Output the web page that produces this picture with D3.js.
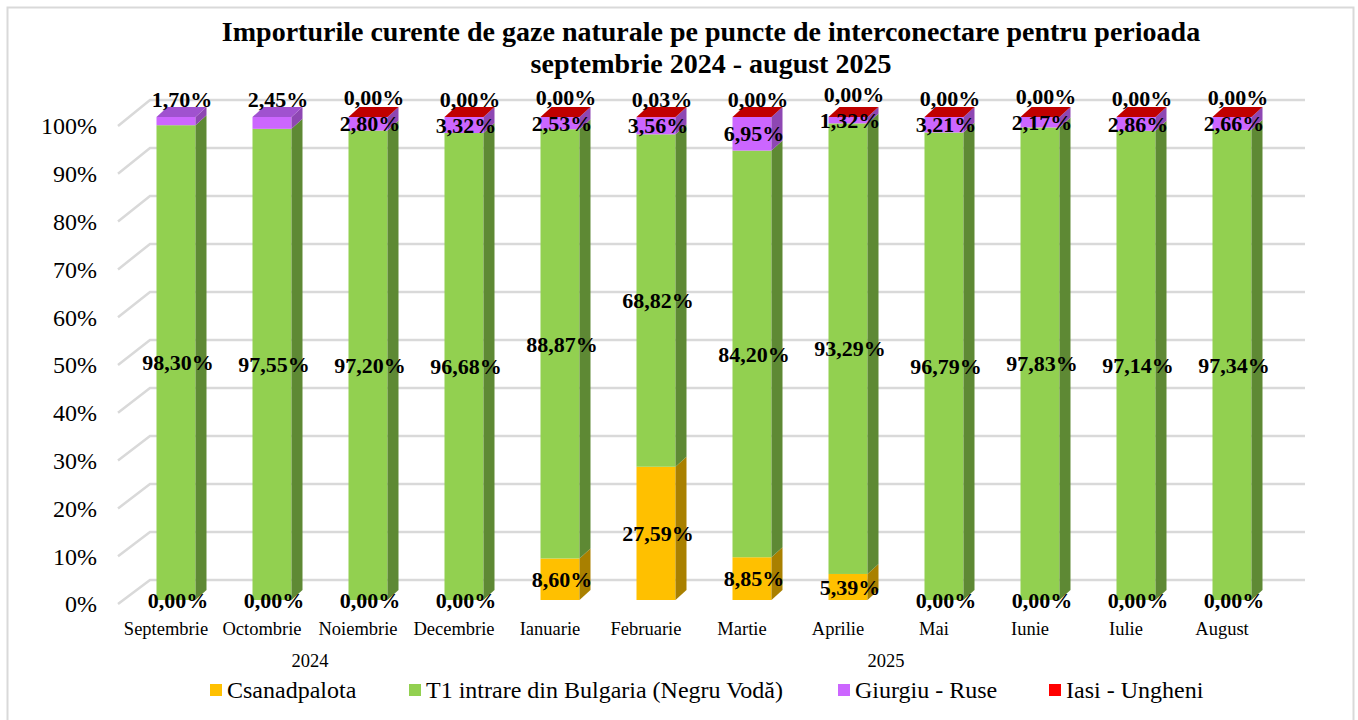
<!DOCTYPE html>
<html>
<head>
<meta charset="utf-8">
<script src="https://cdn.jsdelivr.net/npm/d3@7"></script>
<style>
  body { margin: 0; background: #fff; }
  svg text { font-family: "Liberation Serif", "Times New Roman", serif; }
</style>
</head>
<body>
<script>
// date
let months = ["Septembrie", "Octombrie", "Noiembrie", "Decembrie", "Ianuarie", "Februarie",
    "Martie", "Aprilie", "Mai", "Iunie", "Iulie", "August"];
let years = [
    {label: "2024", from: "Septembrie", to: "Decembrie"},
    {label: "2025", from: "Ianuarie", to: "August"}
];
let seriesNames = ["Csanadpalota", "T1 intrare din Bulgaria (Negru Vodă)", "Giurgiu - Ruse", "Iasi - Ungheni"];
let csanadpalota = [0.00, 0.00, 0.00, 0.00, 8.60, 27.59, 8.85, 5.39, 0.00, 0.00, 0.00, 0.00];
let negruVoda = [98.30, 97.55, 97.20, 96.68, 88.87, 68.82, 84.20, 93.29, 96.79, 97.83, 97.14, 97.34];
let giurgiuRuse = [1.70, 2.45, 2.80, 3.32, 2.53, 3.56, 6.95, 1.32, 3.21, 2.17, 2.86, 2.66];
let iasiUngheni = [null, null, 0.00, 0.00, 0.00, 0.03, 0.00, 0.00, 0.00, 0.00, 0.00, 0.00];
let yTicks = [0, 10, 20, 30, 40, 50, 60, 70, 80, 90, 100];

function main() {
    let W = 1358, H = 720;
    let svg = d3.select("body").append("svg")
        .attr("width", W)
        .attr("height", H)
        .attr("font-family", "Liberation Serif, Times New Roman, serif");

    let colors = ["#FFC000", "#92D050", "#CC66FF", "#FF0000"];
    let sideColors = ["#A98000", "#5E8934", "#8E47B3", "#B30000"];
    let topColors = ["#D9A300", "#7DB245", "#A052CF", "#C00000"];
    let values = [csanadpalota, negruVoda, giurgiuRuse, iasiUngheni];

    // chenarul graficului
    svg.append("rect")
        .attr("x", 7.5).attr("y", 7.5)
        .attr("width", 1346).attr("height", 730)
        .attr("fill", "none")
        .attr("stroke", "#d9d9d9")
        .attr("stroke-width", 2);

    // titlu
    let title = svg.append("text")
        .attr("text-anchor", "middle")
        .attr("font-size", "28px")
        .attr("font-weight", "bold")
        .attr("fill", "#000");
    title.append("tspan").attr("x", 711).attr("y", 41)
        .text("Importurile curente de gaze naturale pe puncte de interconectare pentru perioada");
    title.append("tspan").attr("x", 711).attr("y", 73)
        .text("septembrie 2024 - august 2025");

    // planul din fata (axa) si peretele din spate
    let x = d3.scaleBand().domain(months).range([118, 1270]);
    let yFront = d3.scaleLinear().domain([0, 100]).range([604, 126]);
    let yBack = d3.scaleLinear().domain([0, 100]).range([580, 100]);
    let yBar = d3.scaleLinear().domain([0, 100]).range([600, 117]);
    let backLeft = 150, backRight = 1305;

    let grid = svg.append("g");
    yTicks.forEach(function(t) {
        grid.append("polyline")
            .attr("points", [[118, yFront(t)], [backLeft, yBack(t)], [backRight, yBack(t)]].join(" "))
            .attr("fill", "none")
            .attr("stroke", "#d9d9d9")
            .attr("stroke-width", 2.5);
    });

    svg.append("g").selectAll("text")
        .data(yTicks)
        .enter()
        .append("text")
        .attr("x", 97)
        .attr("y", function(d) { return yFront(d); })
        .attr("dy", "0.35em")
        .attr("text-anchor", "end")
        .attr("font-size", "24px")
        .attr("fill", "#000")
        .text(function(d) { return d + "%"; });

    // coloane 3D
    let barW = 39, offX = 10, dx = 11, dy = -10;
    let bars = svg.append("g");
    let labels = [];
    months.forEach(function(m, i) {
        let x0 = x(m) + x.bandwidth() / 2 + offX - barW / 2;
        let base = 0;
        let topIdx = -1;
        let own = [];
        values.forEach(function(arr, s) {
            let v = arr[i];
            if (v === null) return;
            let b = base, t = base + v;
            base = t;
            topIdx = s;
            if (v > 0) {
                bars.append("rect")
                    .attr("x", x0).attr("y", yBar(t))
                    .attr("width", barW).attr("height", yBar(b) - yBar(t))
                    .attr("fill", colors[s]);
                bars.append("polygon")
                    .attr("points", [[x0 + barW, yBar(t)], [x0 + barW + dx, yBar(t) + dy],
                        [x0 + barW + dx, yBar(b) + dy], [x0 + barW, yBar(b)]].join(" "))
                    .attr("fill", sideColors[s]);
            }
            let l = {s: s, v: v, cx: x0 + barW / 2 + 2, cy: yBar((b + t) / 2)};
            own.push(l);
        });
        let yt = yBar(base);
        bars.append("polygon")
            .attr("points", [[x0, yt], [x0 + dx, yt + dy], [x0 + barW + dx, yt + dy], [x0 + barW, yt]].join(" "))
            .attr("fill", topColors[topIdx]);
        // eticheta seriei de sus se pune deasupra coloanei
        let top = own[own.length - 1];
        if (top.s >= 2) {
            top.cx += 4;
            top.cy = yBar(100) - 18;
            let below = own[own.length - 2];
            if (top.s === 3 && below.cy - top.cy < 26) top.cy = below.cy - 26;
        }
        own.forEach(function(l) { labels.push(l); });
    });

    svg.append("g").selectAll("text")
        .data(labels)
        .enter()
        .append("text")
        .attr("x", function(d) { return d.cx; })
        .attr("y", function(d) { return d.cy; })
        .attr("dy", "0.35em")
        .attr("text-anchor", "middle")
        .attr("font-size", "22px")
        .attr("font-weight", "bold")
        .attr("fill", "#000")
        .text(function(d) { return d.v.toFixed(2).replace(".", ",") + "%"; });

    // etichete categorii
    svg.append("g").selectAll("text")
        .data(months)
        .enter()
        .append("text")
        .attr("x", function(d) { return x(d) + x.bandwidth() / 2; })
        .attr("y", 629)
        .attr("dy", "0.35em")
        .attr("text-anchor", "middle")
        .attr("font-size", "18.5px")
        .attr("fill", "#000")
        .text(function(d) { return d; });

    svg.append("g").selectAll("text")
        .data(years)
        .enter()
        .append("text")
        .attr("x", function(d) { return (x(d.from) + x(d.to) + x.bandwidth()) / 2; })
        .attr("y", 661)
        .attr("dy", "0.35em")
        .attr("text-anchor", "middle")
        .attr("font-size", "18.5px")
        .attr("fill", "#000")
        .text(function(d) { return d.label; });

    // legenda
    let legendX = [210, 409, 838, 1049];
    let legend = svg.append("g").selectAll("g")
        .data(seriesNames)
        .enter()
        .append("g")
        .attr("transform", function(d, i) { return "translate(" + legendX[i] + ", 690)"; });
    legend.append("rect")
        .attr("x", 0).attr("y", -6)
        .attr("width", 12).attr("height", 12)
        .attr("fill", function(d, i) { return colors[i]; });
    legend.append("text")
        .attr("x", 17)
        .attr("y", 0)
        .attr("dy", "0.35em")
        .attr("font-size", "24px")
        .attr("fill", "#000")
        .text(function(d) { return d; });
}

main();
</script>
</body>
</html>
